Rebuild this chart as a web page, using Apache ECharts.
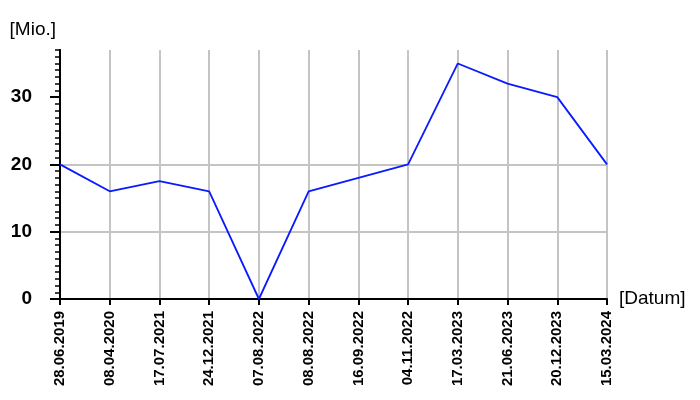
<!DOCTYPE html>
<html>
<head>
<meta charset="utf-8">
<script src="https://cdn.jsdelivr.net/npm/echarts@6/dist/echarts.min.js"></script>
<style>html,body{margin:0;padding:0;background:#fff;}#c{width:700px;height:400px;}</style>
</head>
<body>
<div id="c"></div>
<script>
const categories = ['28.06.2019','08.04.2020','17.07.2021','24.12.2021','07.08.2022','08.08.2022','16.09.2022','04.11.2022','17.03.2023','21.06.2023','20.12.2023','15.03.2024'];
const values = [20, 16, 17.5, 16, 0, 16, 18, 20, 35, 32, 30, 20];
const yMajorTicks = [0, 10, 20, 30];
const yMax = 37;
const yName = '[Mio.]';
const xName = '[Datum]';

const font = 'Liberation Sans, Arial, sans-serif';
const chart = echarts.init(document.getElementById('c'), null, {renderer: 'canvas'});
chart.setOption({
  animation: false,
  backgroundColor: '#ffffff',
  grid: {left: 60, right: 93, top: 50, bottom: 101, containLabel: false},
  xAxis: {
    type: 'category',
    data: categories,
    boundaryGap: false,
    name: xName,
    nameLocation: 'end',
    nameGap: 12,
    nameTextStyle: {fontFamily: font, fontSize: 19, color: '#000', align: 'left', verticalAlign: 'middle'},
    axisLine: {show: true, lineStyle: {color: '#000', width: 2}},
    axisTick: {show: true, length: 6, lineStyle: {color: '#000', width: 2}},
    axisLabel: {rotate: 90, margin: 12, fontFamily: font, fontSize: 15, fontWeight: 'bold', color: '#000', interval: 0},
    splitLine: {show: true, lineStyle: {color: '#c4c4c4', width: 2}}
  },
  yAxis: [{
    type: 'value',
    min: 0,
    max: yMax,
    interval: 10,
    name: yName,
    nameLocation: 'end',
    nameGap: 20,
    nameTextStyle: {fontFamily: font, fontSize: 19, color: '#000', align: 'right', verticalAlign: 'middle', padding: [0, 4, 0, 0]},
    axisLine: {show: true, lineStyle: {color: '#000', width: 2}},
    axisTick: {show: true, length: 10, customValues: yMajorTicks, lineStyle: {color: '#000', width: 2}},
    axisLabel: {customValues: yMajorTicks, margin: 28, fontFamily: font, fontSize: 19, fontWeight: 'bold', color: '#000'},
    splitLine: {show: true, showMinLine: false, showMaxLine: false, lineStyle: {color: '#c4c4c4', width: 2}}
  }, {
    type: 'value',
    position: 'left',
    min: 0,
    max: yMax,
    interval: 1,
    axisLine: {show: true, lineStyle: {color: '#000', width: 2}},
    axisTick: {show: true, length: 5, lineStyle: {color: '#000', width: 1.5}},
    axisLabel: {show: false},
    splitLine: {show: false}
  }],
  series: [{
    type: 'line',
    data: values,
    yAxisIndex: 0,
    symbol: 'none',
    lineStyle: {color: '#0a1aff', width: 1.8},
    z: 5
  }]
});
</script>
</body>
</html>
